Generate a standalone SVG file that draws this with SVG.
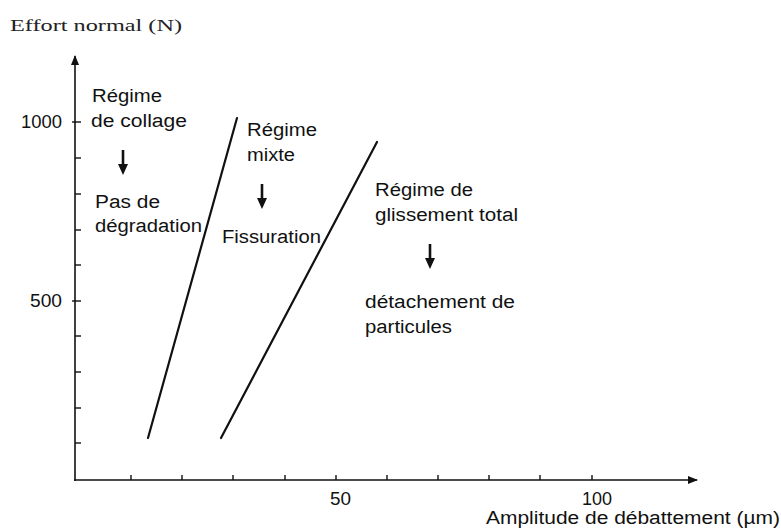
<svg xmlns="http://www.w3.org/2000/svg" width="781" height="529" viewBox="0 0 781 529">
<style>
.t{font-family:"Liberation Sans",Arial,sans-serif;font-size:18px;fill:#111}
.s{font-family:"Liberation Serif","Times New Roman",serif;font-size:17px;fill:#222}
.ax{stroke:#111;stroke-width:1.6;fill:none}
.tk{stroke:#111;stroke-width:1.4}
.ln{stroke:#111;stroke-width:2.2;fill:none;stroke-linecap:round}
</style>
<defs>
<marker id="ah" markerWidth="10" markerHeight="8" refX="9" refY="4" orient="auto" markerUnits="userSpaceOnUse">
<path d="M0,0 L10,4 L0,8 Z" fill="#111"/>
</marker>
<g id="darrow">
<line x1="0" y1="0" x2="0" y2="16" stroke="#111" stroke-width="2.6"/>
<path d="M-5,14 L5,14 L0,25 Z" fill="#111"/>
</g>
</defs>
<g id="axes">
<line class="ax" x1="75" y1="481" x2="75" y2="56" marker-end="url(#ah)"/>
<line class="ax" x1="74" y1="480" x2="697" y2="480" marker-end="url(#ah)"/>
<g class="tk">
<line x1="72" y1="122" x2="81" y2="122"/>
<line x1="75" y1="158" x2="81" y2="158"/>
<line x1="75" y1="194" x2="81" y2="194"/>
<line x1="75" y1="230" x2="81" y2="230"/>
<line x1="75" y1="265" x2="81" y2="265"/>
<line x1="72" y1="301" x2="81" y2="301"/>
<line x1="75" y1="336" x2="81" y2="336"/>
<line x1="75" y1="372" x2="81" y2="372"/>
<line x1="75" y1="408" x2="81" y2="408"/>
<line x1="75" y1="443" x2="81" y2="443"/>
<line x1="131" y1="480" x2="131" y2="475"/>
<line x1="182" y1="480" x2="182" y2="475"/>
<line x1="233" y1="480" x2="233" y2="475"/>
<line x1="285" y1="480" x2="285" y2="475"/>
<line x1="336" y1="480" x2="336" y2="475"/>
<line x1="387" y1="480" x2="387" y2="475"/>
<line x1="438" y1="480" x2="438" y2="475"/>
<line x1="489" y1="480" x2="489" y2="475"/>
<line x1="540" y1="480" x2="540" y2="475"/>
<line x1="592" y1="480" x2="592" y2="475"/>
</g>
<text class="s" x="10" y="31" textLength="172" lengthAdjust="spacingAndGlyphs">Effort normal (N)</text>
<text class="t" x="21" y="128" textLength="41" lengthAdjust="spacingAndGlyphs">1000</text>
<text class="t" x="30" y="307" textLength="32" lengthAdjust="spacingAndGlyphs">500</text>
<text class="t" x="330" y="505" textLength="21" lengthAdjust="spacingAndGlyphs">50</text>
<text class="t" x="582" y="505" textLength="30" lengthAdjust="spacingAndGlyphs">100</text>
<text class="t" x="486" y="524" textLength="294" lengthAdjust="spacingAndGlyphs">Amplitude de débattement (µm)</text>
</g>
<g id="connectors">
<line class="ln" x1="148" y1="438" x2="237" y2="118"/>
<line class="ln" x1="221" y1="438" x2="377" y2="142"/>
</g>
<g id="collage">
<text class="t" x="92" y="102" textLength="70" lengthAdjust="spacingAndGlyphs">Régime</text>
<text class="t" x="91" y="127" textLength="96" lengthAdjust="spacingAndGlyphs">de collage</text>
<use href="#darrow" x="123" y="150"/>
<text class="t" x="95" y="208" textLength="65" lengthAdjust="spacingAndGlyphs">Pas de</text>
<text class="t" x="95" y="232" textLength="107" lengthAdjust="spacingAndGlyphs">dégradation</text>
</g>
<g id="mixte">
<text class="t" x="247" y="136" textLength="70" lengthAdjust="spacingAndGlyphs">Régime</text>
<text class="t" x="247" y="161" textLength="48" lengthAdjust="spacingAndGlyphs">mixte</text>
<use href="#darrow" x="262" y="184"/>
<text class="t" x="222" y="243" textLength="99" lengthAdjust="spacingAndGlyphs">Fissuration</text>
</g>
<g id="glissement">
<text class="t" x="375" y="196" textLength="98" lengthAdjust="spacingAndGlyphs">Régime de</text>
<text class="t" x="375" y="221" textLength="143" lengthAdjust="spacingAndGlyphs">glissement total</text>
<use href="#darrow" x="430" y="244"/>
<text class="t" x="365" y="308" textLength="150" lengthAdjust="spacingAndGlyphs">détachement de</text>
<text class="t" x="365" y="333" textLength="87" lengthAdjust="spacingAndGlyphs">particules</text>
</g>
</svg>
